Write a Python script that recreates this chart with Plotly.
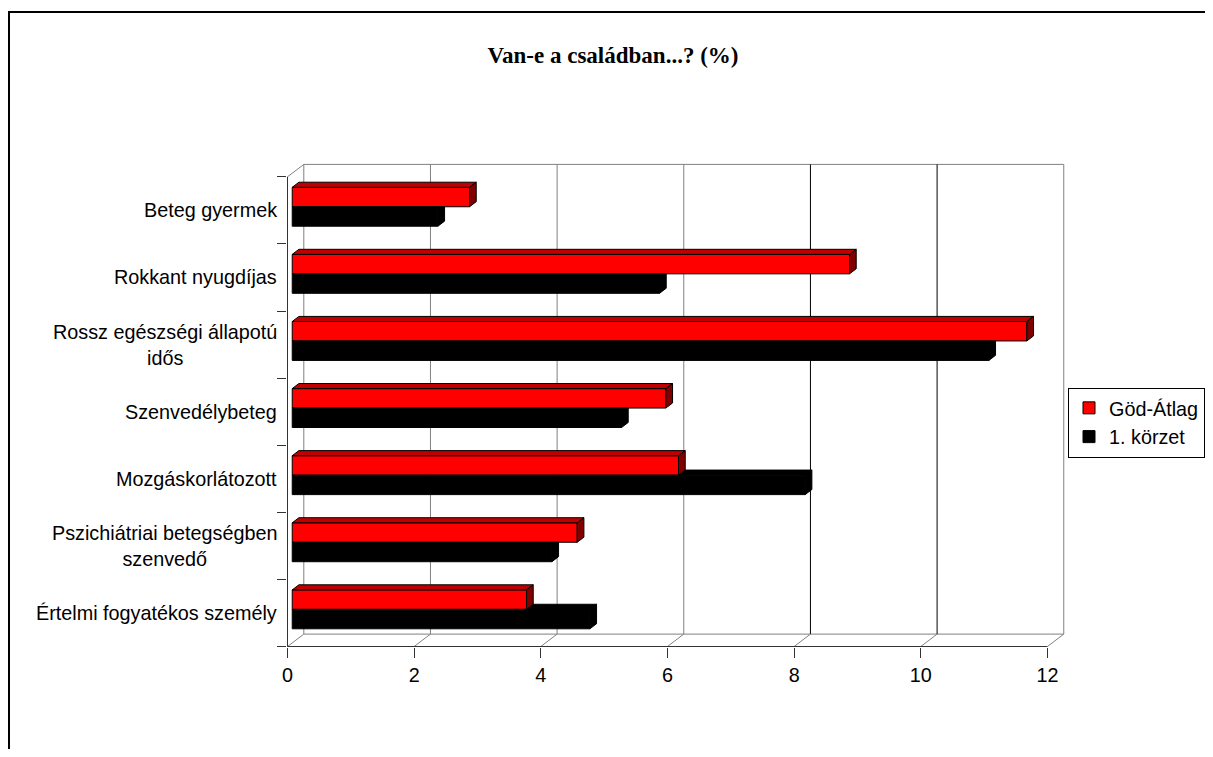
import plotly.graph_objects as go

# ---------------- data ----------------
categories = [
    "Beteg gyermek",
    "Rokkant nyugdíjas",
    "Rossz egészségi állapotú<br>idős",
    "Szenvedélybeteg",
    "Mozgáskorlátozott",
    "Pszichiátriai betegségben<br>szenvedő",
    "Értelmi fogyatékos személy",
]
god_atlag = [2.8, 8.8, 11.6, 5.9, 6.1, 4.5, 3.7]
korzet_1 = [2.3, 5.8, 11.0, 5.2, 8.1, 4.1, 4.7]
series_names = ["Göd-Átlag", "1. körzet"]
x_ticks = [0, 2, 4, 6, 8, 10, 12]
title_text = "Van-e a családban...? (%)"

# ---------------- geometry (screen pixels) ----------------
OX, OY = 8, 8          # page offset of the figure (body margin)
W, HF = 1197, 741
X0, SX = 287.5, 63.33  # pixel of value 0 on the front plane, px per unit
YB, SY = 646.5, 67.1   # pixel of front floor edge, px per category
DEPTH_X, DEPTH_Y = 16.3, 12.4
F0, F1 = 0.29, 0.70    # bar depth span (fraction of full depth)
BW = 0.29              # bar thickness (category units)
PL, PR, PT, PB = 287, 1072, 158, 647  # plot area in screen px

n = len(categories)
ddx = DEPTH_X / SX
ddy = DEPTH_Y / SY
ox0, oy0 = F0 * ddx, F0 * ddy
bdx, bdy = (F1 - F0) * ddx, (F1 - F0) * ddy
xmax = x_ticks[-1]

pos = [n - 1 - j for j in range(n)]

fig = go.Figure()

# front faces (bars)
fig.add_trace(go.Bar(
    y=[p + oy0 + BW / 2 for p in pos], x=god_atlag, base=[ox0] * n,
    width=BW, orientation="h", name=series_names[0],
    marker=dict(color="#FF0000", line=dict(color="#000000", width=1)),
    hoverinfo="skip"))
fig.add_trace(go.Bar(
    y=[p + oy0 - BW / 2 for p in pos], x=korzet_1, base=[ox0] * n,
    width=BW, orientation="h", name=series_names[1],
    marker=dict(color="#000000", line=dict(color="#000000", width=1)),
    hoverinfo="skip"))


def poly(pts, xs, ys):
    for (a, b) in pts + [pts[0]]:
        xs.append(a)
        ys.append(b)
    xs.append(None)
    ys.append(None)


# black top/side faces
bx, by = [], []
for p, vr, vb in zip(pos, god_atlag, korzet_1):
    ybt = p + oy0
    ybb = p + oy0 - BW
    if vb > vr:
        poly([(ox0 + vr, ybt), (ox0 + vb, ybt), (ox0 + vb + bdx, ybt + bdy), (ox0 + vr, ybt + bdy)], bx, by)
        poly([(ox0 + vb, ybb), (ox0 + vb, ybt), (ox0 + vb + bdx, ybt + bdy), (ox0 + vb + bdx, ybb + bdy)], bx, by)
    else:
        poly([(ox0 + vb, ybb), (ox0 + vb, ybt), (ox0 + vb + bdx, ybt), (ox0 + vb + bdx, ybb + bdy)], bx, by)
fig.add_trace(go.Scatter(x=bx, y=by, mode="lines", fill="toself", fillcolor="#000000",
                         line=dict(color="#000000", width=1), showlegend=False, hoverinfo="skip"))

# red top and side faces
tx, ty, sx, sy = [], [], [], []
for p, vr in zip(pos, god_atlag):
    yb0 = p + oy0
    yt = p + oy0 + BW
    poly([(ox0, yt), (ox0 + vr, yt), (ox0 + vr + bdx, yt + bdy), (ox0 + bdx, yt + bdy)], tx, ty)
    poly([(ox0 + vr, yb0), (ox0 + vr, yt), (ox0 + vr + bdx, yt + bdy), (ox0 + vr + bdx, yb0 + bdy)], sx, sy)
fig.add_trace(go.Scatter(x=tx, y=ty, mode="lines", fill="toself", fillcolor="#C00000",
                         line=dict(color="#000000", width=1), showlegend=False, hoverinfo="skip"))
fig.add_trace(go.Scatter(x=sx, y=sy, mode="lines", fill="toself", fillcolor="#800000",
                         line=dict(color="#000000", width=1), showlegend=False, hoverinfo="skip"))

# ---------------- walls, floor, axes ----------------
shapes = []
GRAY = "#808080"
ytop = n - 0.5
ybot = -0.5
# back wall
shapes.append(dict(type="rect", xref="x", yref="y", x0=ddx, x1=xmax + ddx, y0=ybot + ddy, y1=ytop + ddy,
                   line=dict(color=GRAY, width=1), layer="below"))
for k in x_ticks[1:-1]:
    shapes.append(dict(type="line", xref="x", yref="y", x0=k + ddx, x1=k + ddx, y0=ybot + ddy, y1=ytop + ddy,
                       line=dict(color=GRAY if k < 8 else "#000000", width=1), layer="below"))
# left wall top edge
shapes.append(dict(type="line", xref="x", yref="y", x0=0, x1=ddx, y0=ytop, y1=ytop + ddy,
                   line=dict(color=GRAY, width=1), layer="below"))
# floor diagonals
for k in x_ticks:
    shapes.append(dict(type="line", xref="x", yref="y", x0=k, x1=k + ddx, y0=ybot, y1=ybot + ddy,
                       line=dict(color=GRAY, width=1), layer="below"))
# front axis lines
shapes.append(dict(type="line", xref="x", yref="y", x0=0, x1=0, y0=ybot, y1=ytop,
                   line=dict(color="#333333", width=1), layer="below"))
shapes.append(dict(type="line", xref="x", yref="y", x0=0, x1=xmax, y0=ybot, y1=ybot,
                   line=dict(color="#333333", width=1), layer="below"))
# outer chart border (paper = plot-area fractions)
PW, PH = PR - PL, PB - PT
shapes.append(dict(type="rect", xref="paper", yref="paper",
                   x0=(9 - PL) / PW, x1=(1240 - PL) / PW,
                   y0=(PB - 790) / PH, y1=(PB - 12) / PH,
                   line=dict(color="#000000", width=2)))

LABEL_FONT = dict(family="Liberation Sans, Arial, sans-serif", size=19.8, color="#000000")

annotations = []
for p, c in zip(pos, categories):
    annotations.append(dict(x=0, y=p, xref="x", yref="y", text=c, showarrow=False,
                            xanchor="right", yanchor="middle", align="center", xshift=-9,
                            font=LABEL_FONT))

fig.update_layout(
    template="none",
    width=W, height=HF,
    margin=dict(l=PL - OX, r=OX + W - PR, t=PT - OY, b=OY + HF - PB, pad=0, autoexpand=False),
    paper_bgcolor="#FFFFFF", plot_bgcolor="rgba(0,0,0,0)",
    barmode="overlay",
    title=dict(text="<b>" + title_text + "</b>", x=(613 - OX) / W, xanchor="center",
               y=1 - (55 - OY) / HF, yanchor="middle",
               font=dict(family="Liberation Serif, Times New Roman, serif", size=23, color="#000000")),
    xaxis=dict(range=[(PL - X0) / SX, (PR - X0) / SX], tickmode="array", tickvals=x_ticks,
               ticktext=[str(t) for t in x_ticks], ticks="outside", ticklen=10, tickwidth=1,
               tickcolor="#333333", showgrid=False, zeroline=False, showline=False,
               automargin=False, tickfont=LABEL_FONT, fixedrange=True),
    yaxis=dict(range=[-0.5 - (PB - YB) / SY, -0.5 + (YB - PT) / SY], tickmode="array",
               tickvals=[i - 0.5 for i in range(n + 1)], ticktext=[""] * (n + 1),
               ticks="outside", ticklen=9, tickwidth=1, tickcolor="#333333",
               showgrid=False, zeroline=False, showline=False, automargin=False, fixedrange=True),
    legend=dict(xref="container", yref="container",
                x=(1205 - OX) / W, xanchor="right", y=1 - (422.5 - OY) / HF, yanchor="middle",
                bgcolor="#FFFFFF", bordercolor="#000000", borderwidth=1,
                font=LABEL_FONT, traceorder="normal", tracegroupgap=0),
    shapes=shapes,
    annotations=annotations,
    showlegend=True,
)

fig.write_html("out.html")
